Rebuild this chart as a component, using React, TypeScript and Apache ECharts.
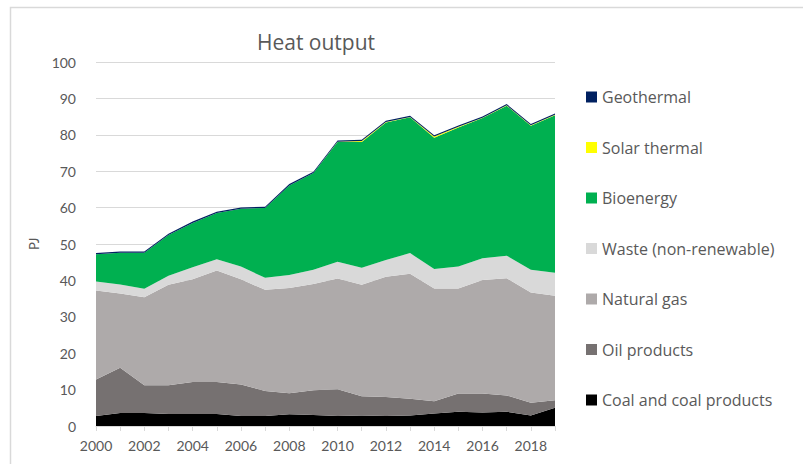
import React, { useEffect, useRef } from "react";
import * as echarts from "echarts";

const years = ["2000","2001","2002","2003","2004","2005","2006","2007","2008","2009","2010","2011","2012","2013","2014","2015","2016","2017","2018","2019"];
const coal = [2.75,3.6,3.6,3.3,3.3,3.3,2.75,2.75,3.2,3.0,2.75,2.9,2.75,2.9,3.4,3.9,3.7,3.9,2.9,5.0];
const oil = [10.05,12.4,7.6,7.9,8.8,8.8,8.65,6.85,5.8,6.8,7.35,5.3,5.25,4.6,3.4,5.0,5.2,4.5,3.5,2.1];
const gas = [24.4,20.4,24.2,27.6,28.2,30.6,28.9,27.8,28.9,29.2,30.4,30.6,33.0,34.3,31.0,28.9,31.2,32.2,30.3,28.7];
const waste = [2.5,2.5,2.3,2.5,3.3,3.1,3.5,3.3,3.6,3.9,4.6,4.7,4.6,5.7,5.3,6.0,6.0,6.2,6.2,6.3];
const bio = [7.5,8.7,9.9,11.2,12.2,12.7,15.9,19.2,24.6,26.6,32.9,34.5,37.8,37.3,36.1,38.2,38.5,41.2,39.6,43.3];
const solar = [0,0,0,0,0,0,0,0,0,0,0.1,0.3,0.1,0.1,0.3,0.2,0.1,0.1,0.1,0.1];
const geo = [0.35,0.35,0.35,0.35,0.35,0.35,0.35,0.35,0.35,0.35,0.35,0.35,0.35,0.35,0.35,0.35,0.35,0.35,0.35,0.35];

const seriesDefs = [
  { name: "Coal and coal products", data: coal, color: "#000000" },
  { name: "Oil products", data: oil, color: "#767171" },
  { name: "Natural gas", data: gas, color: "#AEAAAA" },
  { name: "Waste (non-renewable)", data: waste, color: "#D9D9D9" },
  { name: "Bioenergy", data: bio, color: "#00B050" },
  { name: "Solar thermal", data: solar, color: "#FFFF00" },
  { name: "Geothermal", data: geo, color: "#002060" },
];

const FONT = "Lato, 'Open Sans', sans-serif";
const FONT2 = "'Open Sans', Lato, sans-serif";
const TXT = "#595959";

export default function App() {
  const ref = useRef<HTMLDivElement>(null);
  useEffect(() => {
    if (!ref.current) return;
    const chart = echarts.init(ref.current, null, { renderer: "svg" });
    chart.setOption({
      animation: false,
      backgroundColor: "#ffffff",
      textStyle: { fontFamily: FONT },
      title: {
        text: "Heat output",
        left: 311,
        textAlign: "center",
        top: 26,
        textStyle: { fontSize: 21, fontWeight: "normal", color: TXT, fontFamily: FONT2 },
      },
      graphic: [
        {
          type: "rect",
          shape: { x: 10.5, y: 7.5, width: 800, height: 470 },
          style: { fill: "none", stroke: "#d9d9d9", lineWidth: 1.5 },
          silent: true,
          z: -1,
        },
      ],
      legend: {
        orient: "vertical",
        left: 581,
        top: 84,
        itemWidth: 11,
        itemHeight: 11,
        itemGap: 34.5,
        icon: "rect",
        data: seriesDefs.map((s) => s.name).reverse(),
        textStyle: { fontSize: 16, color: TXT, fontFamily: FONT2, lineHeight: 16 },
      },
      grid: { left: 96, right: 248, top: 62, bottom: 38 },
      xAxis: {
        type: "category",
        boundaryGap: false,
        data: years,
        axisLine: { lineStyle: { color: "#d9d9d9", width: 1 } },
        axisTick: { show: true, interval: 0, length: 5, lineStyle: { color: "#d9d9d9" } },
        axisLabel: { interval: 1, color: TXT, fontSize: 14, margin: 12, fontFamily: FONT },
      },
      yAxis: {
        type: "value",
        min: 0,
        max: 100,
        interval: 10,
        name: "PJ",
        nameLocation: "middle",
        nameGap: 45,
        nameRotate: 90,
        nameTextStyle: { color: TXT, fontSize: 13, fontFamily: FONT },
        axisLine: { show: false },
        axisTick: { show: false },
        axisLabel: { color: TXT, fontSize: 14, margin: 20, fontFamily: FONT },
        splitLine: { lineStyle: { color: "#d9d9d9", width: 1 } },
      },
      series: seriesDefs.map((s) => ({
        name: s.name,
        type: "line",
        stack: "total",
        data: s.data,
        showSymbol: false,
        symbol: "none",
        lineStyle: { width: 0 },
        areaStyle: { color: s.color, opacity: 1 },
        itemStyle: { color: s.color },
        emphasis: { disabled: true },
      })),
    });
    return () => chart.dispose();
  }, []);
  return (
    <div
      ref={ref}
      style={{ position: "absolute", left: 0, top: 0, width: 803, height: 464 }}
    />
  );
}
